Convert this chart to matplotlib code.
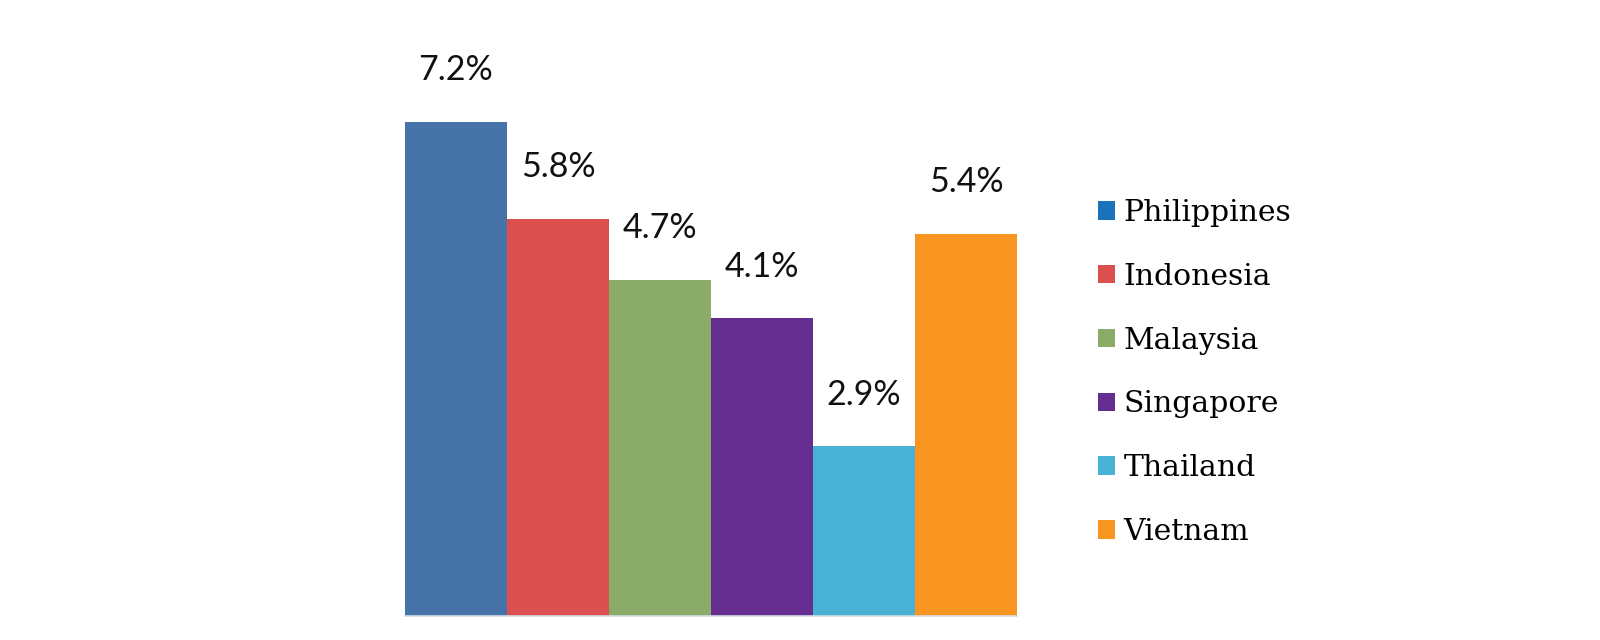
import matplotlib
matplotlib.use("Agg")
import matplotlib.pyplot as plt
from matplotlib.patches import Patch

# values
countries = ["Philippines", "Indonesia", "Malaysia", "Singapore", "Thailand", "Vietnam"]
labels = ["7.2%", "5.8%", "4.7%", "4.1%", "2.9%", "5.4%"]
heights = [7.2, 5.79, 4.90, 4.34, 2.47, 5.57]

bar_colors = ["#4674A8", "#DB4F4E", "#8BAB68", "#652D90", "#47B2D3", "#F79520"]
legend_colors = ["#1A73BA", "#DB4F4E", "#8BAB68", "#652D90", "#47B2D3", "#F79520"]

fig = plt.figure(figsize=(16, 6.4), dpi=100)
# axes box: bars span x 405..1017 px, baseline at y 616 px
ax = fig.add_axes([405 / 1600, 24 / 640, 612 / 1600, 549 / 640])

x = range(len(heights))
ax.bar(x, heights, width=1.0, color=bar_colors, edgecolor="none")
ax.set_xlim(-0.5, len(heights) - 0.5)
ax.set_ylim(0, 8)

for i, (h, lab) in enumerate(zip(heights, labels)):
    ax.annotate(lab, (i, h), xytext=(0, 30), textcoords="offset points",
                ha="center", va="baseline", fontsize=24.5,
                family="Lato", color="#111111", annotation_clip=False)

# faint baseline under the bars
ax.axhline(0, color="#D3DCE8", lw=1.2, clip_on=False)

for s in ax.spines.values():
    s.set_visible(False)
ax.set_xticks([])
ax.set_yticks([])

handles = [Patch(facecolor=c, edgecolor="none") for c in legend_colors]
fig.legend(handles, countries, loc="center left", bbox_to_anchor=(0.686, 0.418),
           frameon=False, prop={"family": "DejaVu Serif", "size": 21.5},
           handlelength=0.57, handleheight=0.57, handletextpad=0.3,
           labelspacing=1.2, borderpad=0, borderaxespad=0)

fig.savefig("out.png", dpi=100, facecolor="white")
